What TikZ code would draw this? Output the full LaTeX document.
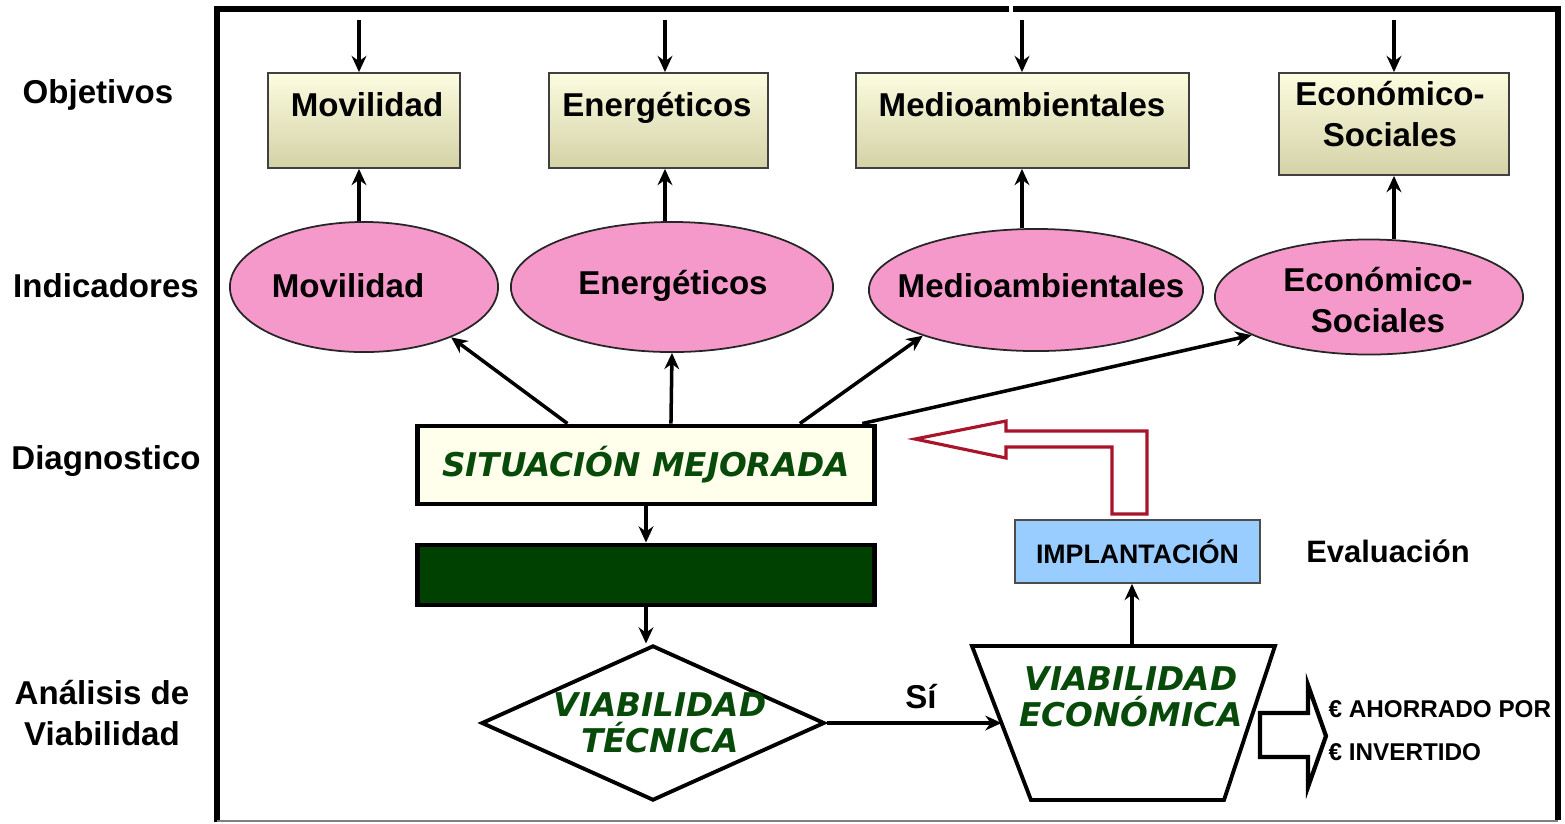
\documentclass[tikz,border=0pt]{standalone}
\usepackage{fontspec}
\setmainfont{Liberation Sans}
\newfontfamily\verdfont{DejaVu Sans}
\usetikzlibrary{arrows.meta,shapes.geometric,calc}
\definecolor{objlight}{RGB}{252,252,224}
\definecolor{objdark}{RGB}{212,210,166}
\definecolor{indpink}{RGB}{245,152,202}
\definecolor{sitcream}{RGB}{255,255,236}
\definecolor{darkgreen}{RGB}{0,64,0}
\definecolor{txtgreen}{RGB}{8,74,10}
\definecolor{implblue}{RGB}{153,204,255}
\definecolor{redarrow}{RGB}{168,20,42}
\tikzset{
  lbl/.style={font=\fontsize{#1}{11.4}\selectfont\bfseries, align=center, inner sep=0pt},
  lbl/.default=9.4,
  objbox/.style={draw=black!75, line width=0.5pt, top color=objlight, bottom color=objdark, inner sep=0pt},
  indic/.style={ellipse, draw=black!85, line width=0.5pt, fill=indpink, inner sep=0pt},
  thickbox/.style={draw=black, line width=1.4pt, inner sep=0pt},
  grtxt/.style={font=\verdfont\fontsize{9.3}{10.2}\selectfont\bfseries\itshape, text=txtgreen, align=center, inner sep=0pt},
  arr/.style={-{Stealth[length=4.6pt,width=4.2pt]}, line width=1pt},
}
\begin{document}
\begin{tikzpicture}[x=0.01cm,y=-0.01cm]
    \useasboundingbox (0,0) rectangle (1565,823);
    % frame
    \draw[line width=1.6pt] (217,822) -- (217,9) -- (1009,9);
    \draw[line width=1.6pt] (1013,9) -- (1558,9) -- (1558,820);
    \draw[gray, line width=0.6pt] (217,821) -- (1558,821);
    % row labels
    \node[lbl] (lObj) at (98,95) {Objetivos};
    \node[lbl] (lInd) at (106,286) {Indicadores};
    \node[lbl] (lDia) at (106,461) {Diagnostico};
    \node[lbl] (lAna) at (102,713) {Análisis de\\Viabilidad};
    % objetivos
    \node[objbox, minimum width=1.92cm, minimum height=0.95cm] (oMov) at (364,120.5) {};
    \node[objbox, minimum width=2.19cm, minimum height=0.95cm] (oEne) at (658.5,120.5) {};
    \node[objbox, minimum width=3.33cm, minimum height=0.95cm] (oMed) at (1022.5,120.5) {};
    \node[objbox, minimum width=2.30cm, minimum height=1.02cm] (oEco) at (1394,124) {};
    \node[lbl] (oMovT) at (367,105) {Movilidad};
    \node[lbl] (oEneT) at (657,108) {Energéticos};
    \node[lbl] (oMedT) at (1022,105) {Medioambientales};
    \node[lbl] (oEcoT) at (1390,114) {Económico-\\Sociales};
    % indicadores
    \node[indic, minimum width=2.68cm, minimum height=1.30cm] (iMov) at (364,287) {};
    \node[indic, minimum width=3.22cm, minimum height=1.30cm] (iEne) at (672,287) {};
    \node[indic, minimum width=3.34cm, minimum height=1.22cm] (iMed) at (1036,290) {};
    \node[indic, minimum width=3.08cm, minimum height=1.15cm] (iEco) at (1369,297) {};
    \node[lbl] (iMovT) at (348,286) {Movilidad};
    \node[lbl] (iEneT) at (673,286) {Energéticos};
    \node[lbl] (iMedT) at (1041,286) {Medioambientales};
    \node[lbl] (iEcoT) at (1378,300) {Económico-\\Sociales};
    \foreach \n/\x in {Mov/359,Ene/665,Med/1022,Eco/1394}{
      \coordinate (c\n) at (\x,20);
      \draw[arr] (c\n) -- (c\n |- o\n.north);
      \draw[arr] (c\n |- i\n.north) -- (c\n |- o\n.south);
    }
    % diagnostico
    \node[thickbox, fill=sitcream, grtxt, minimum width=4.57cm, minimum height=0.78cm] (sit) at (646,465) {SITUACIÓN MEJORADA};
    \draw[arr] ($(sit.north west)!0.33!(sit.north east)$) -- (iMov.-30);
    \draw[arr] ($(sit.north west)!0.554!(sit.north east)$) -- (iEne.south);
    \draw[arr] ($(sit.north west)!0.833!(sit.north east)$) -- (iMed.-158);
    \draw[arr] ($(sit.north west)!0.968!(sit.north east)$) -- (iEco.-162);
    \node[thickbox, fill=darkgreen, minimum width=4.57cm, minimum height=0.60cm] (dark) at (646,575) {};
    \draw[arr] (sit.south) -- (dark.north);
    % analisis de viabilidad
    \node[diamond, draw=black, line width=1.1pt, minimum width=3.43cm, minimum height=1.55cm, inner sep=0pt] (dia) at (653,723) {};
    \node[grtxt] (diaT) at (660,723) {VIABILIDAD\\TÉCNICA};
    \draw[arr] (dark.south) -- (dark.south |- dia.north);
    \coordinate (tTL) at (972,646);
    \coordinate (tTR) at (1275,646);
    \coordinate (tBR) at (1224,800);
    \coordinate (tBL) at (1031,800);
    \draw[line width=1.1pt] (tTL) -- (tTR) -- (tBR) -- (tBL) -- cycle;
    \coordinate (tW) at ($(tTL)!0.5!(tBL)$);
    \coordinate (tN) at (1132,646);
    \node[grtxt] (trapT) at (1131,697) {VIABILIDAD\\ECONÓMICA};
    \draw[arr] (dia.east) -- (tW);
    \node[lbl] (si) at (921,697) {Sí};
    % evaluacion
    \node[draw=black!70, line width=0.5pt, fill=implblue, lbl=7.6, minimum width=2.45cm, minimum height=0.63cm] (impl) at (1137.5,551.5) {IMPLANTACIÓN};
    \node[lbl=8.8] (eval) at (1388,551) {Evaluación};
    \draw[arr] (tN) -- (tN |- impl.south);
    \draw[redarrow, line width=0.9pt] (915,439) -- (1006,421) -- (1006,431) -- (1147,431) -- (1147,514)
      -- (1112,514) -- (1112,447) -- (1006,447) -- (1006,458) -- cycle;
    \draw[line width=1.2pt] (1260,713) -- (1308,713) -- (1308,685) -- (1326,736) -- (1308,787)
      -- (1308,757) -- (1260,757) -- cycle;
    \node[lbl=6.9, anchor=west] (ahorro) at (1328,709) {€ AHORRADO POR};
    \node[lbl=6.9, anchor=west] (invert) at (1328,752) {€ INVERTIDO};
  \end{tikzpicture}
\end{document}
